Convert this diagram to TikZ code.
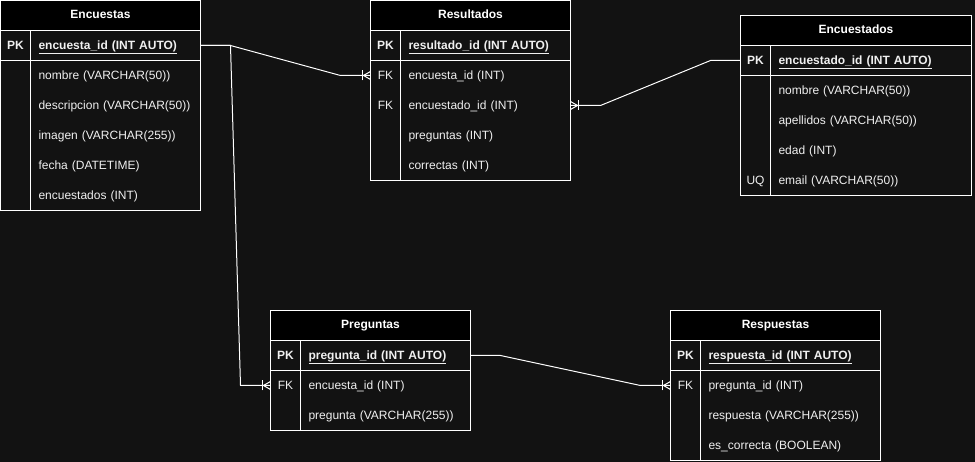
\documentclass[tikz,border=0pt]{standalone}
\usepackage{fontspec}
\setmainfont{Liberation Sans}
\usetikzlibrary{positioning, decorations.markings}
\definecolor{canvasbg}{HTML}{121212}
\definecolor{fieldtext}{HTML}{F0F0F0}
\tikzstyle{entity} = [rectangle, draw=white, line width=1pt, fill=black, text=white, font=\fontsize{12pt}{14pt}\selectfont\bfseries, minimum height=30pt, inner sep=0pt, outer sep=0pt, text height=8.6pt, text depth=2.5pt, anchor=north west]
\tikzstyle{keycell} = [rectangle, text=fieldtext, font=\fontsize{12pt}{14pt}\selectfont, minimum width=30pt, minimum height=30pt, inner sep=0pt, outer sep=0pt, text height=9.6pt, text depth=2.5pt]
\tikzset{field/.style={rectangle, text=fieldtext, font=\fontsize{12pt}{14pt}\selectfont, text width=#1, align=left, minimum height=30pt, inner xsep=8pt, inner ysep=0pt, outer sep=0pt, text height=9.6pt, text depth=2.5pt}}
\tikzstyle{tableline} = [draw=white, line width=1pt]
\tikzstyle{relation} = [draw=white, line width=1pt]
\tikzstyle{crowfoot} = [postaction={decorate}, decoration={markings, mark=at position 1 with {\draw[white, line width=1pt] (0,4) -- (-7,0) -- (0,-4); \draw[white, line width=1pt] (-8,5) -- (-8,-5);}}]

\begin{document}
\begin{tikzpicture}[x=1pt, y=-1pt]
	\useasboundingbox (0,0) rectangle (975,462);
	\fill [canvasbg] (0,0) rectangle (975,462);

	% Encuestas
	\node (enc) [entity, minimum width=200pt] at (0.5,0.5) {Encuestas};
	\node (enc_pk) [keycell, below right=0pt and 0pt of enc.south west] {\textbf{PK}};
	\node (enc_id) [field=154pt, right=0pt of enc_pk] {\underline{\textbf{encuesta\_id (INT AUTO)}}};
	\node (enc_nombre) [field=154pt, below=0pt of enc_id] {nombre (VARCHAR(50))};
	\node (enc_desc) [field=154pt, below=0pt of enc_nombre] {descripcion (VARCHAR(50))};
	\node (enc_imagen) [field=154pt, below=0pt of enc_desc] {imagen (VARCHAR(255))};
	\node (enc_fecha) [field=154pt, below=0pt of enc_imagen] {fecha (DATETIME)};
	\node (enc_num) [field=154pt, below=0pt of enc_fecha] {encuestados (INT)};
	\draw [tableline] (enc.south west) rectangle (enc_num.south east);
	\draw [tableline] (enc_pk.south west) -- (enc_id.south east);
	\draw [tableline] (enc_id.north west) -- (enc_num.south west);

	% Resultados
	\node (res) [entity, minimum width=200pt] at (370.5,0.5) {Resultados};
	\node (res_pk) [keycell, below right=0pt and 0pt of res.south west] {\textbf{PK}};
	\node (res_id) [field=154pt, right=0pt of res_pk] {\underline{\textbf{resultado\_id (INT AUTO)}}};
	\node (res_enc) [field=154pt, below=0pt of res_id] {encuesta\_id (INT)};
	\node (res_edo) [field=154pt, below=0pt of res_enc] {encuestado\_id (INT)};
	\node (res_preg) [field=154pt, below=0pt of res_edo] {preguntas (INT)};
	\node (res_corr) [field=154pt, below=0pt of res_preg] {correctas (INT)};
	\node (res_fk1) [keycell, left=0pt of res_enc] {FK};
	\node (res_fk2) [keycell, left=0pt of res_edo] {FK};
	\draw [tableline] (res.south west) rectangle (res_corr.south east);
	\draw [tableline] (res_pk.south west) -- (res_id.south east);
	\draw [tableline] (res_id.north west) -- (res_corr.south west);

	% Encuestados
	\node (edo) [entity, minimum width=231pt] at (740.5,15.5) {Encuestados};
	\node (edo_pk) [keycell, below right=0pt and 0pt of edo.south west] {\textbf{PK}};
	\node (edo_id) [field=185pt, right=0pt of edo_pk] {\underline{\textbf{encuestado\_id (INT AUTO)}}};
	\node (edo_nombre) [field=185pt, below=0pt of edo_id] {nombre (VARCHAR(50))};
	\node (edo_apell) [field=185pt, below=0pt of edo_nombre] {apellidos (VARCHAR(50))};
	\node (edo_edad) [field=185pt, below=0pt of edo_apell] {edad (INT)};
	\node (edo_email) [field=185pt, below=0pt of edo_edad] {email (VARCHAR(50))};
	\node (edo_uq) [keycell, left=0pt of edo_email] {UQ};
	\draw [tableline] (edo.south west) rectangle (edo_email.south east);
	\draw [tableline] (edo_pk.south west) -- (edo_id.south east);
	\draw [tableline] (edo_id.north west) -- (edo_email.south west);

	% Preguntas
	\node (pre) [entity, minimum width=200pt] at (270.5,310.5) {Preguntas};
	\node (pre_pk) [keycell, below right=0pt and 0pt of pre.south west] {\textbf{PK}};
	\node (pre_id) [field=154pt, right=0pt of pre_pk] {\underline{\textbf{pregunta\_id (INT AUTO)}}};
	\node (pre_enc) [field=154pt, below=0pt of pre_id] {encuesta\_id (INT)};
	\node (pre_texto) [field=154pt, below=0pt of pre_enc] {pregunta (VARCHAR(255))};
	\node (pre_fk) [keycell, left=0pt of pre_enc] {FK};
	\draw [tableline] (pre.south west) rectangle (pre_texto.south east);
	\draw [tableline] (pre_pk.south west) -- (pre_id.south east);
	\draw [tableline] (pre_id.north west) -- (pre_texto.south west);

	% Respuestas
	\node (rsp) [entity, minimum width=210pt] at (670.5,310.5) {Respuestas};
	\node (rsp_pk) [keycell, below right=0pt and 0pt of rsp.south west] {\textbf{PK}};
	\node (rsp_id) [field=164pt, right=0pt of rsp_pk] {\underline{\textbf{respuesta\_id (INT AUTO)}}};
	\node (rsp_preg) [field=164pt, below=0pt of rsp_id] {pregunta\_id (INT)};
	\node (rsp_texto) [field=164pt, below=0pt of rsp_preg] {respuesta (VARCHAR(255))};
	\node (rsp_corr) [field=164pt, below=0pt of rsp_texto] {es\_correcta (BOOLEAN)};
	\node (rsp_fk) [keycell, left=0pt of rsp_preg] {FK};
	\draw [tableline] (rsp.south west) rectangle (rsp_corr.south east);
	\draw [tableline] (rsp_pk.south west) -- (rsp_id.south east);
	\draw [tableline] (rsp_id.north west) -- (rsp_corr.south west);

	% relations
	\draw [relation, crowfoot] (enc_id.east) -- ++(30,0) -- ([xshift=-30pt]res_fk1.west) -- (res_fk1.west);
	\draw [relation, crowfoot] (enc_id.east) -- ++(30,0) -- ([xshift=-30pt]pre_fk.west) -- (pre_fk.west);
	\draw [relation, crowfoot] (edo_pk.west) -- ++(-30,0) -- ([xshift=30pt]res_edo.east) -- (res_edo.east);
	\draw [relation, crowfoot] (pre_id.east) -- ++(30,0) -- ([xshift=-30pt]rsp_fk.west) -- (rsp_fk.west);

\end{tikzpicture}
\end{document}
